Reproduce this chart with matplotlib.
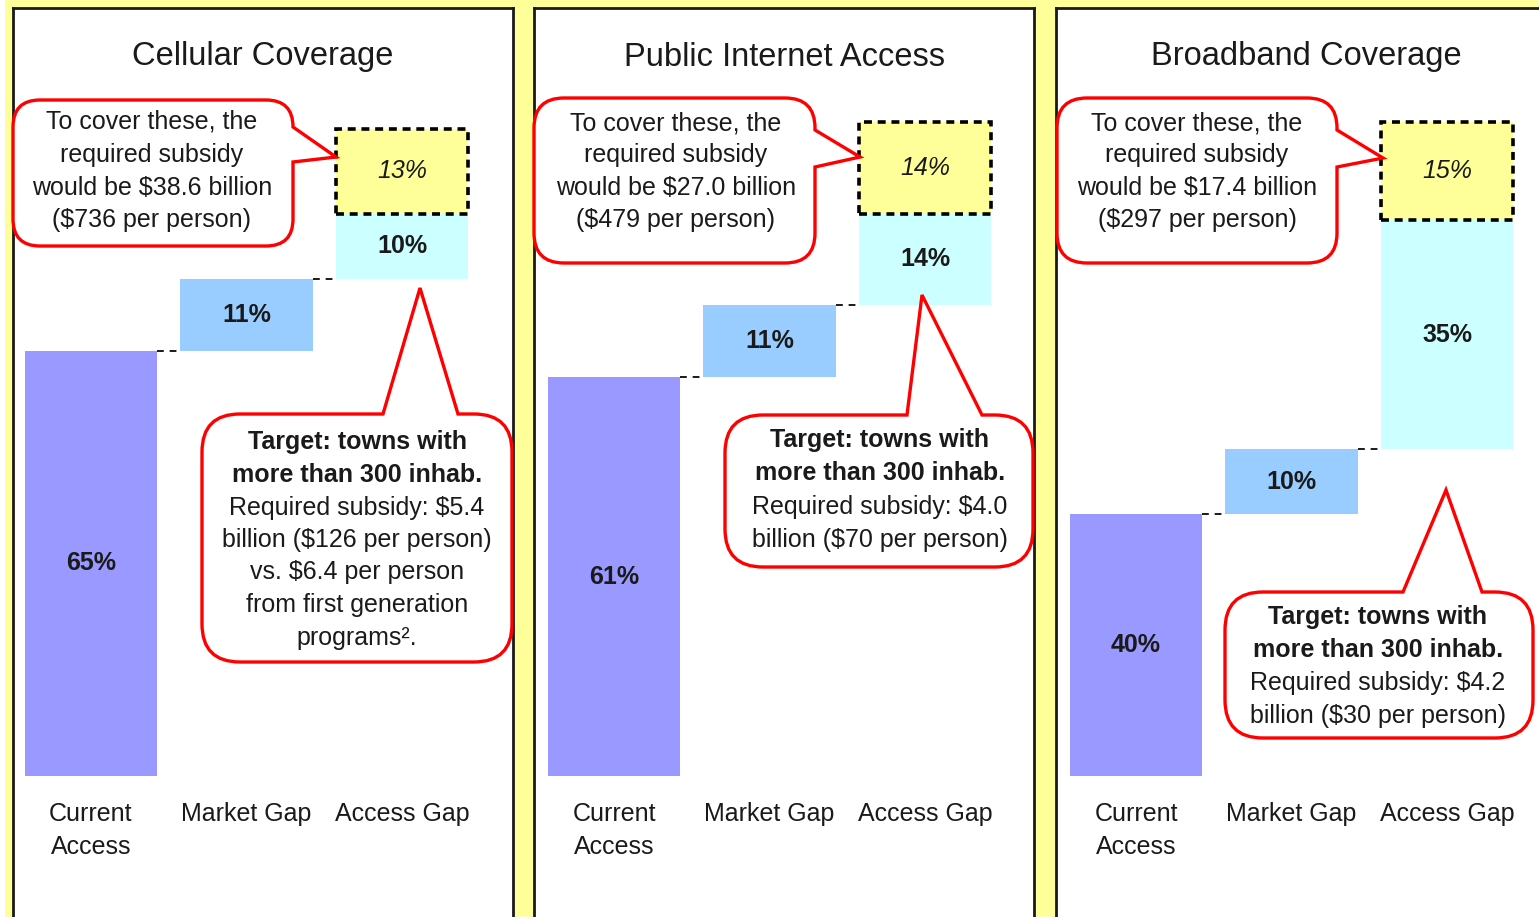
import numpy as np
import matplotlib.pyplot as plt
from matplotlib.path import Path
from matplotlib.patches import PathPatch, Rectangle
from matplotlib.transforms import Affine2D

plt.rcParams['font.family'] = ['Liberation Sans', 'DejaVu Sans']

W, H = 1539, 917

# data
titles = ["Cellular Coverage", "Public Internet Access", "Broadband Coverage"]
categories = ["Current\nAccess", "Market Gap", "Access Gap"]
current = np.array([65, 61, 40])
market = np.array([11, 11, 10])
access = np.array([10, 14, 35])
uncovered = np.array([13, 14, 15])

top_notes = [
    ["To cover these, the", "required subsidy", "would be $38.6 billion", "($736 per person)"],
    ["To cover these, the", "required subsidy", "would be $27.0 billion", "($479 per person)"],
    ["To cover these, the", "required subsidy", "would be $17.4 billion", "($297 per person)"],
]
target_notes = [
    ["Target: towns with", "more than 300 inhab.", "Required subsidy: $5.4",
     "billion ($126 per person)", "vs. $6.4 per person", "from first generation", "programs²."],
    ["Target: towns with", "more than 300 inhab.", "Required subsidy: $4.0",
     "billion ($70 per person)"],
    ["Target: towns with", "more than 300 inhab.", "Required subsidy: $4.2",
     "billion ($30 per person)"],
]

bar_colors = ['#9999FF', '#99CCFF', '#CCFFFF']
yellow = '#FFFF99'
red = '#FF0000'
ink = '#1a1a1a'

# callout shapes (pixel positions on the page, y down)
top_boxes = [(13, 100, 293, 246, 27, 'right', 127, 162, (336, 157)),
             (534, 98, 815, 263, 30, 'right', 130, 167, (860, 157)),
             (1057, 98, 1337, 263, 30, 'right', 130, 167, (1383, 158))]
target_boxes = [(202, 414, 512, 662, 38, 'top', 383, 458, (420, 288)),
                (725, 415, 1033, 567, 38, 'top', 907, 982, (922, 295)),
                (1225, 592, 1533, 738, 38, 'top', 1403, 1482, (1446, 490))]
top_text = [(152, [122, 155, 188, 220]), (676, [124, 155, 188, 220]), (1197, [124, 155, 188, 220])]
target_text = [(357, [442, 475, 508, 540, 572, 605, 638]),
               (880, [440, 473, 507, 540]),
               (1378, [617, 650, 683, 716])]


def bubble_path(x0, y0, x1, y1, r, side, a, b, tip):
    L, C = Path.LINETO, Path.CURVE3
    verts = [(x0 + r, y0)]
    codes = [Path.MOVETO]
    if side == 'top':
        verts += [(a, y0), tip, (b, y0)]
        codes += [L, L, L]
    verts += [(x1 - r, y0), (x1, y0), (x1, y0 + r)]
    codes += [L, C, C]
    if side == 'right':
        verts += [(x1, a), tip, (x1, b)]
        codes += [L, L, L]
    verts += [(x1, y1 - r), (x1, y1), (x1 - r, y1)]
    codes += [L, C, C]
    verts += [(x0 + r, y1), (x0, y1), (x0, y1 - r)]
    codes += [L, C, C]
    verts += [(x0, y0 + r), (x0, y0), (x0 + r, y0)]
    codes += [L, C, C]
    verts += [(x0 + r, y0)]
    codes += [Path.CLOSEPOLY]
    return Path(verts, codes)


fig = plt.figure(figsize=(W / 100, H / 100), dpi=100, facecolor=yellow)
pix = Affine2D().scale(1 / W, -1 / H).translate(0, 1) + fig.transFigure
fig.add_artist(Rectangle((0, 0), 5, H, transform=pix, color='white', lw=0))

panel_left = [13, 534, 1056]
first_bar_offset = [78, 80, 80]   # px from panel edge to first bar centre
bar_step = 155.5                  # px between bar centres
px_per_pct = 6.54
x = np.arange(3)
width = 0.85

for k in range(3):
    ax = fig.add_axes([panel_left[k] / W, 0, 500 / W, 909 / H])
    ax.set_facecolor('white')
    x0 = -first_bar_offset[k] / bar_step
    ax.set_xlim(x0, x0 + 500 / bar_step)
    ax.set_ylim(-141 / px_per_pct, 768 / px_per_pct)
    ax.set_xticks([])
    ax.set_yticks([])
    ax.spines['bottom'].set_visible(False)
    for s in ['left', 'top', 'right']:
        ax.spines[s].set_linewidth(2)
        ax.spines[s].set_color(ink)

    heights = [current[k], market[k], access[k]]
    bottoms = [0, current[k], current[k] + market[k]]
    ax.bar(x, heights, bottom=bottoms, width=width, color=bar_colors, linewidth=0)
    top_total = current[k] + market[k] + access[k]
    ax.bar(2, uncovered[k], bottom=top_total, width=width, color=yellow,
           edgecolor='black', linestyle=(0, (2.2, 1.6)), linewidth=2.6)

    for i in range(3):
        ax.text(x[i], bottoms[i] + heights[i] / 2, f"{heights[i]}%", ha='center', va='center',
                fontsize=18, fontweight='bold', color=ink)
    ax.text(2, top_total + uncovered[k] / 2, f"{uncovered[k]}%", ha='center', va='center',
            fontsize=18, fontstyle='italic', color=ink)

    # connectors
    for i in range(2):
        lvl = bottoms[i] + heights[i]
        ax.plot([x[i] + width / 2, x[i + 1] - width / 2], [lvl, lvl], color=ink,
                linestyle=(0, (3.5, 3)), linewidth=1.4)

    for i in range(3):
        ax.text(x[i], -3.9, categories[i], ha='center', va='top', fontsize=18,
                linespacing=1.5, color=ink)

    ax.text(0.5, 1 - 49 / 909, titles[k], transform=ax.transAxes, ha='center', va='center',
            fontsize=23.5, color=ink)

    # callouts
    for box in (top_boxes[k], target_boxes[k]):
        ax.add_patch(PathPatch(bubble_path(*box), transform=pix, facecolor='white',
                               edgecolor=red, linewidth=2.4, clip_on=False, zorder=5))
    cx, ys = top_text[k]
    for line, y in zip(top_notes[k], ys):
        ax.text(cx, y, line, transform=pix, ha='center', va='center', fontsize=18,
                color=ink, zorder=6, clip_on=False)
    cx, ys = target_text[k]
    for j, (line, y) in enumerate(zip(target_notes[k], ys)):
        ax.text(cx, y, line, transform=pix, ha='center', va='center', fontsize=18,
                fontweight='bold' if j < 2 else 'normal', color=ink, zorder=6, clip_on=False)

fig.savefig("out.png", dpi=100, facecolor=fig.get_facecolor())
